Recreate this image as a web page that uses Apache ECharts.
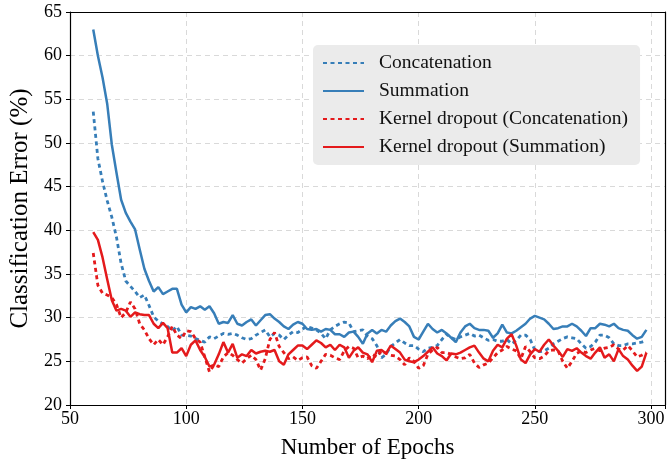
<!DOCTYPE html>
<html>
<head>
<meta charset="utf-8">
<script src="https://cdn.jsdelivr.net/npm/echarts@6/dist/echarts.min.js"></script>
<style>
  html, body { margin: 0; padding: 0; background: #fff; }
  #chart { width: 669px; height: 464px; }
</style>
</head>
<body>
<div id="chart"></div>
<script>
// epochs sampled every 2 from 60 to 298
const epochs = []
for (let e = 60; e <= 298; e += 2) epochs.push(e)

const concatenation = [
  53.6, 48.2, 45.6, 43.4, 41.5, 39.2, 36.2, 34.2, 33.6, 33.0,
  32.3, 32.6, 31.4, 30.1, 29.6, 29.3, 29.0, 28.5, 29.0, 28.0,
  28.0, 27.9, 27.6, 27.4, 27.2, 27.8, 27.6, 27.9, 28.2, 28.1,
  28.2, 28.0, 27.7, 27.5, 27.6, 28.0, 28.3, 28.6, 27.8, 28.2,
  28.0, 27.5, 28.0, 28.4, 28.3, 28.7, 29.0, 28.8, 28.6, 28.2,
  27.6, 28.6, 29.0, 29.3, 29.5, 29.4, 28.4, 28.5, 28.6, 27.9,
  27.6, 26.8, 25.4, 25.8, 26.7, 27.1, 27.5, 27.1, 26.8, 26.8,
  26.4, 26.1, 26.5, 26.6, 26.8, 27.5, 28.1, 27.7, 27.5, 27.8,
  28.0, 28.2, 27.9, 28.0, 27.7, 27.4, 27.5, 27.3, 27.3, 27.5,
  27.0, 27.4, 28.0, 28.0, 27.5, 26.3, 26.1, 26.2, 26.5, 27.0,
  27.3, 27.6, 27.8, 27.7, 27.6, 27.0, 26.5, 26.7, 27.2, 28.0,
  28.0, 27.7, 27.0, 26.8, 26.8, 27.0, 27.0, 27.1, 27.2, 27.4
]

const summation = [
  63.0, 60.0, 57.5, 54.5, 49.8, 46.6, 43.5, 42.0, 41.0, 40.1,
  37.8, 35.6, 34.2, 33.0, 33.5, 32.7, 33.0, 33.3, 33.3, 31.5,
  30.6, 31.2, 31.0, 31.3, 30.9, 31.3, 30.5, 29.3, 29.5, 29.4,
  30.3, 29.3, 29.1, 29.5, 29.8, 29.1, 29.7, 30.3, 30.4, 29.9,
  29.5, 29.0, 28.7, 29.2, 29.5, 29.3, 28.7, 28.6, 28.7, 28.4,
  28.7, 28.6, 28.1, 28.1, 27.8, 28.3, 28.4, 27.8, 27.0, 28.2,
  28.6, 28.2, 28.6, 28.4, 29.1, 29.6, 29.9, 29.5, 29.0, 27.8,
  27.5, 28.4, 29.3, 28.7, 28.3, 28.6, 28.2, 27.7, 27.2, 28.3,
  29.0, 29.3, 28.8, 28.6, 28.6, 28.5, 27.7, 28.2, 29.2, 28.3,
  28.2, 28.5, 28.9, 29.3, 29.9, 30.2, 30.0, 29.8, 29.3, 28.7,
  28.8, 29.0, 29.0, 29.3, 29.0, 28.5, 27.9, 28.8, 28.8, 29.3,
  29.2, 29.0, 29.3, 28.8, 28.6, 28.5, 28.0, 27.6, 27.8, 28.6
]

const kdConcatenation = [
  37.4, 33.7, 32.8, 32.6, 32.3, 31.5, 30.0, 30.6, 31.8, 31.0,
  29.3, 28.6, 27.6, 26.9, 27.5, 26.9, 27.8, 29.0, 28.0, 27.6,
  28.5, 28.4, 27.6, 27.2, 25.5, 23.8, 24.6, 24.4, 25.5, 26.0,
  25.7, 25.2, 24.8, 25.3, 25.7, 25.2, 24.0, 25.3, 27.5, 28.3,
  26.7, 26.0, 25.3, 25.5, 25.1, 25.4, 25.5, 24.5, 24.2, 25.0,
  25.8, 25.7, 25.4, 25.2, 26.2, 26.7, 26.5, 25.4, 25.6, 25.3,
  25.8, 25.5, 26.2, 25.9, 25.7, 25.6, 25.2, 24.6, 25.4, 25.0,
  24.2, 24.5, 25.8, 26.3, 26.6, 26.0, 26.0, 25.8, 25.5, 25.3,
  25.4, 25.8, 24.8, 24.3, 24.6, 24.8, 25.4, 26.0, 26.3, 26.7,
  26.4, 26.2, 25.3, 26.7, 26.1, 25.4, 25.3, 25.6, 26.2, 26.3,
  26.2, 25.0, 24.2, 25.0, 25.9, 26.2, 26.0, 26.3, 26.5, 26.2,
  26.5, 26.6, 26.9, 26.4, 26.3, 26.8, 26.2, 25.5, 25.7, 26.0
]

const kdSummation = [
  39.8, 38.9, 36.9, 34.4, 32.0, 30.8, 31.0, 30.8, 30.1, 30.6,
  30.4, 30.3, 30.3, 29.3, 28.8, 29.4, 28.8, 26.0, 26.0, 26.5,
  25.6, 26.9, 27.4, 26.3, 25.5, 24.4, 24.6, 25.8, 27.2, 26.0,
  27.0, 25.4, 25.8, 25.6, 26.3, 25.9, 26.1, 26.2, 26.1, 26.3,
  25.0, 24.6, 25.8, 26.3, 26.8, 26.8, 26.4, 26.9, 27.4, 27.1,
  26.6, 26.9, 26.3, 26.9, 26.6, 25.4, 26.2, 26.6, 26.0, 25.8,
  24.9, 26.2, 26.3, 25.9, 26.8, 26.4, 26.0, 25.2, 25.0, 24.9,
  25.2, 25.6, 26.1, 26.6, 25.9, 25.6, 25.1, 25.9, 25.8, 26.0,
  26.3, 26.6, 26.8, 26.0, 25.3, 25.0, 26.2, 26.9, 26.6, 27.6,
  28.1, 26.8, 25.2, 24.8, 25.8, 26.4, 26.1, 26.9, 27.5, 26.8,
  26.2, 25.5, 26.4, 26.2, 26.5, 26.0, 25.6, 25.3, 26.0, 26.6,
  25.4, 25.8, 25.0, 26.4, 25.6, 25.2, 24.5, 23.9, 24.4, 26.0
]

const xTicks = [50, 100, 150, 200, 250, 300]
const yTicks = [20, 25, 30, 35, 40, 45, 50, 55, 60, 65]

const blue = '#377eb8'
const red = '#e41a1c'
const font = '"Liberation Serif", "Times New Roman", serif'

const pairs = (vals) => epochs.map((e, i) => [e, vals[i]])

const chart = echarts.init(document.getElementById('chart'))

function lineSeries(name, vals, color, dotted) {
  return {
    name: name,
    type: 'line',
    data: pairs(vals),
    symbol: 'none',
    color: color,
    lineStyle: {
      color: color,
      width: dotted ? 2.8 : 2.5,
      type: dotted ? [4, 3.5] : 'solid',
    },
    z: dotted ? 2 : 3,
  }
}

const gridLine = { show: true, lineStyle: { color: '#d9d9d9', type: [5, 4], width: 1 } }
const frameAxis = {
  axisLine: { show: true, onZero: false, lineStyle: { color: '#000', width: 1.2 } },
  axisTick: { show: false },
  axisLabel: { show: false },
  splitLine: { show: false },
}

chart.setOption({
  backgroundColor: '#fff',
  animation: false,
  textStyle: { fontFamily: font },
  grid: { left: 66, right: 4, top: 12, bottom: 59 },
  legend: {
    orient: 'vertical',
    left: 313,
    top: 45,
    padding: [8, 12, 8, 9],
    backgroundColor: '#ebebeb',
    borderRadius: 5,
    itemWidth: 41,
    itemHeight: 14,
    itemGap: 8,
    itemStyle: { opacity: 0 },
    textStyle: { fontFamily: font, fontSize: 19.5, lineHeight: 20, color: '#111', padding: [0, 0, 0, 10] },
    data: [
      'Concatenation',
      'Summation',
      'Kernel dropout (Concatenation)',
      'Kernel dropout (Summation)',
    ],
  },
  xAxis: [
    {
      type: 'value',
      min: 50,
      max: 306,
      interval: 50,
      name: 'Number of Epochs',
      nameLocation: 'middle',
      nameGap: 31,
      nameTextStyle: { fontFamily: font, fontSize: 23, color: '#000' },
      axisLine: { onZero: false, lineStyle: { color: '#000', width: 1.2 } },
      axisTick: { show: true, length: 4, lineStyle: { color: '#000' } },
      axisLabel: {
        fontFamily: font,
        fontSize: 18,
        color: '#000',
        margin: 5,
        formatter: (v) => (xTicks.includes(v) ? String(v) : ''),
      },
      splitLine: gridLine,
    },
    Object.assign({ type: 'value', position: 'top', min: 50, max: 306 }, frameAxis),
  ],
  yAxis: [
    {
      type: 'value',
      min: 20,
      max: 65,
      interval: 5,
      name: 'Classification Error (%)',
      nameLocation: 'middle',
      nameGap: 37,
      nameTextStyle: { fontFamily: font, fontSize: 25, color: '#000' },
      axisLine: { show: true, onZero: false, lineStyle: { color: '#000', width: 1.2 } },
      axisTick: { show: true, length: 4, lineStyle: { color: '#000' } },
      axisLabel: {
        fontFamily: font,
        fontSize: 18,
        color: '#000',
        margin: 8,
        formatter: (v) => (yTicks.includes(v) ? String(v) : ''),
      },
      splitLine: gridLine,
    },
    Object.assign({ type: 'value', position: 'right', min: 20, max: 65 }, frameAxis),
  ],
  series: [
    lineSeries('Concatenation', concatenation, blue, true),
    lineSeries('Summation', summation, blue, false),
    lineSeries('Kernel dropout (Concatenation)', kdConcatenation, red, true),
    lineSeries('Kernel dropout (Summation)', kdSummation, red, false),
  ],
})
</script>
</body>
</html>
